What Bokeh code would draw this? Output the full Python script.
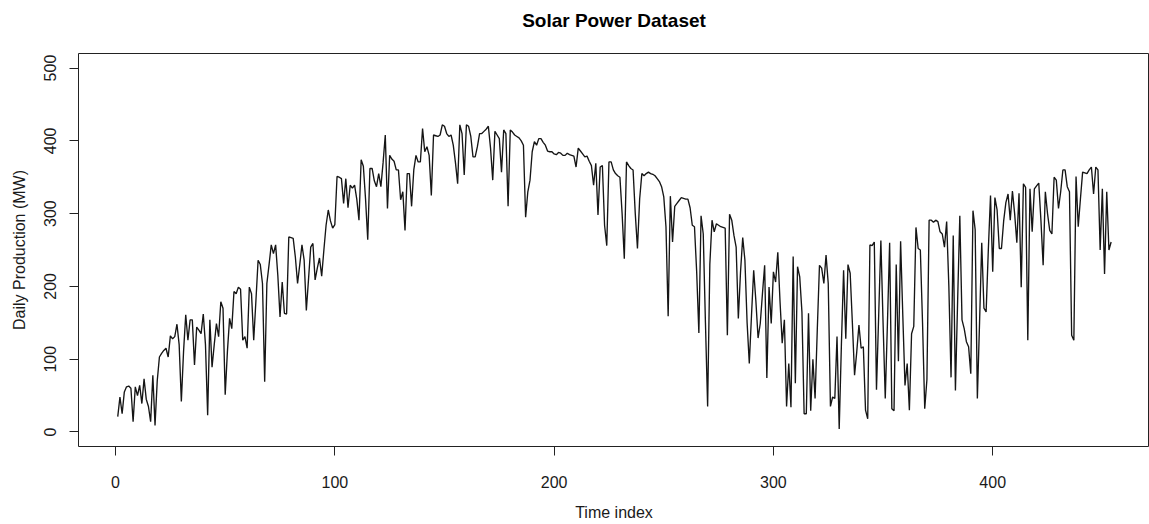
from bokeh.plotting import figure
from bokeh.models import Range1d, FixedTicker, Label
from bokeh.layouts import column
from bokeh.embed import file_html
from bokeh.resources import INLINE

# ---- data ----
production = [
    21, 48, 25, 55, 62, 63, 60, 14, 62, 50,
    64, 39, 73, 45, 35, 14, 78, 9, 70, 103,
    108, 112, 115, 103, 132, 128, 131, 148, 120, 42,
    110, 161, 126, 154, 154, 92, 144, 140, 135, 162,
    120, 23, 154, 89, 120, 149, 131, 179, 170, 51,
    110, 156, 142, 193, 190, 199, 196, 126, 131, 115,
    199, 190, 126, 180, 236, 230, 204, 69, 204, 230,
    257, 245, 257, 215, 158, 206, 163, 162, 268, 267,
    266, 240, 204, 230, 257, 236, 167, 210, 254, 259,
    209, 225, 239, 214, 250, 284, 305, 290, 280, 285,
    351, 350, 348, 314, 348, 308, 339, 335, 339, 320,
    291, 374, 365, 320, 264, 362, 362, 345, 337, 355,
    337, 370, 408, 307, 380, 375, 372, 360, 360, 319,
    330, 277, 355, 355, 310, 360, 380, 371, 371, 417,
    385, 392, 380, 325, 408, 407, 406, 408, 422, 420,
    410, 406, 408, 394, 370, 341, 422, 410, 353, 422,
    420, 406, 378, 378, 392, 410, 410, 413, 416, 420,
    390, 346, 413, 408, 403, 357, 415, 410, 310, 415,
    412, 408, 406, 404, 400, 394, 295, 330, 346, 385,
    399, 394, 403, 403, 398, 394, 386, 385, 385, 382,
    381, 384, 383, 380, 380, 383, 381, 380, 379,
    364, 390, 386, 382, 378, 379, 372, 366, 339, 369,
    298, 364, 366, 284, 256, 371, 371, 360, 355, 352,
    350, 300, 238, 371, 366, 362, 360, 300, 252, 320,
    355, 352, 355, 357, 355, 354, 352, 348, 344, 337,
    323, 282, 159, 324, 261, 310, 314, 318, 322, 321,
    320, 320, 308, 284, 282, 220, 136, 297, 272, 150,
    35, 230, 291, 275, 286, 284, 282, 281, 280, 133,
    299, 291, 270, 254, 156, 220, 267, 236, 150, 94,
    160, 222, 180, 129, 149, 190, 229, 74, 199, 149,
    220, 206, 247, 180, 122, 154, 35, 94, 34, 241,
    67, 227, 213, 165, 25, 25, 163, 29, 100, 46,
    140, 229, 225, 204, 243, 204, 35, 48, 46, 131,
    4, 120, 222, 128, 230, 218, 150, 78, 110, 147,
    115, 117, 30, 18, 257, 256, 261, 58, 160, 263,
    150, 46, 150, 260, 32, 29, 230, 97, 262, 160,
    64, 94, 30, 135, 145, 281, 252, 250, 150, 32,
    72, 291, 291, 288, 291, 289, 275, 272, 254,
    289, 200, 75, 270, 57, 180, 297, 154, 142, 124,
    117, 80, 304, 278, 46, 150, 260, 170, 165, 250,
    325, 220, 322, 305, 252, 252, 290, 315, 327, 291,
    331, 300, 260, 328, 199, 341, 336, 126, 334, 275,
    334, 338, 342, 290, 229, 330, 300, 277, 272, 350,
    346, 307, 330, 360, 360, 337, 330, 133, 126, 351,
    282, 320, 357, 356, 355, 360, 364, 327, 364, 360,
    250, 334, 217, 330, 250, 261,
]
time_index = list(range(1, len(production) + 1))

x_ticks = [0, 100, 200, 300, 400]
y_ticks = [0, 100, 200, 300, 400, 500]
title_text = "Solar Power Dataset"
x_label = "Time index"
y_label = "Daily Production (MW)"

FONT = "Liberation Sans"
TXT = "#1a1a1a"

W = 1149
LEFT, FW, FH = 78, 1071, 393
TOP_H = 52

x_range = Range1d(-16.9, 471.5)

# ---- title strip (its frame is aligned with the main plot's frame) ----
t = figure(
    width=W, height=TOP_H, x_range=x_range, y_range=Range1d(0, TOP_H),
    output_backend="svg", toolbar_location=None,
    x_axis_type=None, y_axis_type=None,
    min_border=0, outline_line_color=None,
    background_fill_color="white", border_fill_color="white",
)
t.grid.visible = False
t.add_layout(Label(
    x=(x_range.start + x_range.end) / 2, y=TOP_H - 20, text=title_text,
    text_align="center", text_baseline="middle",
    text_font=FONT, text_font_size="19px", text_font_style="bold",
    text_color="black",
))

# ---- main plot ----
p = figure(
    frame_width=FW, frame_height=FH,
    x_range=x_range, y_range=Range1d(-20, 520),
    output_backend="svg", toolbar_location=None,
    min_border_left=LEFT, min_border_right=0,
    min_border_top=1, min_border_bottom=78,
    background_fill_color="white", border_fill_color="white",
)

p.line(time_index, production, line_color="#151515", line_width=1.35)

p.grid.visible = False
p.outline_line_color = "#222222"
p.outline_line_width = 1

for ax, ticks, lab in ((p.xaxis[0], x_ticks, x_label), (p.yaxis[0], y_ticks, y_label)):
    ax.ticker = FixedTicker(ticks=ticks)
    ax.axis_line_color = None
    ax.major_tick_in = 0
    ax.major_tick_out = 9
    ax.major_tick_line_color = "#222222"
    ax.minor_tick_line_color = None
    ax.major_label_text_font = FONT
    ax.major_label_text_font_size = "16px"
    ax.major_label_text_color = TXT
    ax.axis_label = lab
    ax.axis_label_text_font = FONT
    ax.axis_label_text_font_size = "16px"
    ax.axis_label_text_font_style = "normal"
    ax.axis_label_text_color = TXT

p.xaxis.major_label_standoff = 20
p.xaxis.axis_label_standoff = 13
p.yaxis.major_label_orientation = "vertical"
p.yaxis.major_label_standoff = 13
p.yaxis.axis_label_standoff = 14

layout = column(t, p, spacing=0)
open("out.html", "w").write(file_html(layout, INLINE))
